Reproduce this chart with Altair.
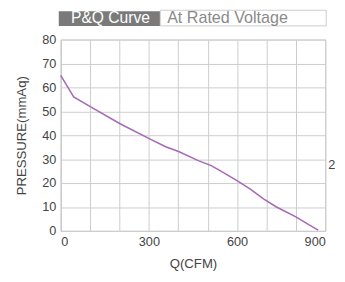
import altair as alt
import pandas as pd

flow = [0, 44, 102, 202, 301, 357, 401, 468, 512, 545, 601, 645, 690, 734, 800, 845, 876]
pressure = [65, 56, 51.9, 44.8, 38.6, 35.2, 33.2, 29.4, 27.3, 25, 20.9, 17.5, 13.4, 10, 5.9, 2.5, 0.3]

df = pd.DataFrame({"Q": flow, "P": pressure})
one = pd.DataFrame({"k": [0]})
FONT = "Liberation Sans"

line = alt.Chart(df).mark_line(color="#a468b4", strokeWidth=1.5).encode(
    x=alt.X("Q:Q", scale=alt.Scale(domain=[0, 900], nice=False),
            axis=alt.Axis(values=list(range(0, 1000, 100)), labelExpr="datum.value % 300 == 0 ? datum.label : ''",
                          format="d", title="Q(CFM)", grid=True, ticks=False,
                          labelPadding=5, titlePadding=8)),
    y=alt.Y("P:Q", scale=alt.Scale(domain=[0, 80], nice=False),
            axis=alt.Axis(values=list(range(0, 90, 10)), title="PRESSURE(mmAq)", grid=True, ticks=False,
                          labelPadding=5, titlePadding=14)),
)

deco = alt.Chart(one)
dark = deco.mark_rect(color="#7a7a7a").encode(
    x=alt.value(-2), x2=alt.value(102), y=alt.value(-29), y2=alt.value(-14))
white = deco.mark_rect(fill="white", stroke="#cccccc", strokeWidth=1).encode(
    x=alt.value(102), x2=alt.value(272), y=alt.value(-30), y2=alt.value(-14))
t1 = deco.mark_text(text="P&Q Curve", color="white", fontSize=16, font=FONT, align="center", baseline="middle").encode(
    x=alt.value(51), y=alt.value(-21.5))
t2 = deco.mark_text(text="At Rated Voltage", color="#8a8a8a", fontSize=16.5, font=FONT, align="left", baseline="middle").encode(
    x=alt.value(109), y=alt.value(-21.5))
t3 = deco.mark_text(text="2", color="#444444", fontSize=13, font=FONT, align="left", baseline="middle").encode(
    x=alt.value(274), y=alt.value(129))

chart = alt.layer(line, dark, white, t1, t2, t3).properties(
    width=271, height=196,
    padding={"left": 54, "top": 29, "right": 12, "bottom": 49},
    autosize=alt.AutoSizeParams(type="none"),
).configure_view(stroke="#cccccc").configure_axis(
    gridColor="#cccccc", domainColor="#cccccc", labelFont=FONT, titleFont=FONT,
    labelFontSize=13, titleFontSize=13.5, labelColor="#444444", titleColor="#444444",
    titleFontWeight="normal",
)

chart.save("out.html", embed_options={"renderer": "svg", "actions": False})
